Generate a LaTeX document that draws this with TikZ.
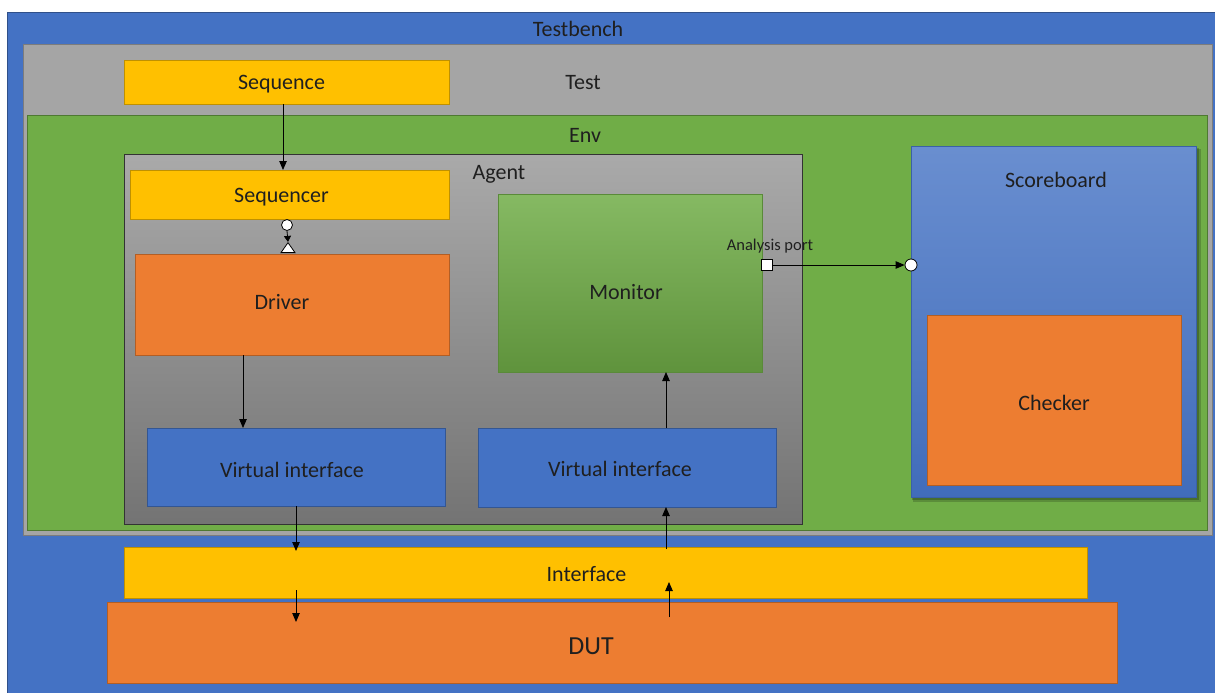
\documentclass[tikz,border=0pt]{standalone}
\usepackage{fontspec}
\setmainfont{Carlito}
\usetikzlibrary{arrows.meta,shapes.geometric,calc}
\definecolor{obl}{HTML}{4472C4}
\definecolor{ogr}{HTML}{A5A5A5}
\definecolor{ogn}{HTML}{70AD47}
\definecolor{oye}{HTML}{FFC000}
\definecolor{oor}{HTML}{ED7D31}
\tikzset{
  box/.style={rectangle,inner sep=0pt,outer sep=0pt,line width=0.9pt},
  bluebox/.style={box,fill=obl,draw=obl!75!black},
  yelbox/.style={box,fill=oye,draw=oye!75!black},
  orbox/.style={box,fill=oor,draw=oor!75!black},
  lbl/.style={font=\fontsize{22}{24}\selectfont,text=black!88,inner sep=0pt,yshift=-2.5pt},
  arr/.style={-{Triangle[length=9pt,width=7.5pt]},line width=0.8pt,black},
}
\begin{document}
\begin{tikzpicture}[x=1pt,y=-1pt]
\useasboundingbox (0,0) rectangle (1215,693);
\fill[white] (0,0) rectangle (1215,693);
% Testbench
\node[box,fill=obl,draw=obl!70!black,anchor=north west,minimum width=1208,minimum height=690] (tb) at (7,12) {};
\node[lbl] (tbl) at (578,26) {Testbench};
% Test
\node[box,fill=ogr,draw=ogr!75!black,line width=1pt,anchor=north west,minimum width=1189,minimum height=490] (test) at (23,45) {};
\node[lbl] (testl) at (583,80) {Test};
\node[yelbox,anchor=north west,minimum width=325,minimum height=44] (seq) at (124,60) {};
\node[lbl] at ($(seq)+(-5,0)$) {Sequence};
% Env
\node[box,fill=ogn,draw=ogn!70!black,anchor=north west,minimum width=1180,minimum height=415] (env) at (27,115) {};
\node[lbl] (envl) at (585,133) {Env};
% Agent
\node[box,top color=ogr!95!white,bottom color=ogr!70!black,draw=black!80,anchor=north west,minimum width=678,minimum height=370] (agent) at (124,154) {};
\node[lbl] (agentl) at (499,172) {Agent};
\node[yelbox,anchor=north west,minimum width=319,minimum height=49] (sqr) at (130,170) {};
\node[lbl] at ($(sqr)+(-8,0)$) {Sequencer};
\node[orbox,anchor=north west,minimum width=314,minimum height=101] (drv) at (135,254) {};
\node[lbl] at ($(drv)+(-10,-5)$) {Driver};
\node[box,top color=ogn!85!white,bottom color=ogn!85!black,draw=ogn!80!black,anchor=north west,minimum width=264,minimum height=178] (mon) at (498,194) {};
\node[lbl] at ($(mon)+(-4,7)$) {Monitor};
\node[bluebox,anchor=north west,minimum width=298,minimum height=78] (vil) at (147,428) {};
\node[lbl] at ($(vil)+(-4,0)$) {Virtual interface};
\node[bluebox,anchor=north west,minimum width=298,minimum height=79] (vir) at (478,428) {};
\node[lbl] at ($(vir)+(-7,-1)$) {Virtual interface};
% Scoreboard
\fill[black,opacity=0.18] (913,149) rectangle (1201,502);
\fill[black,opacity=0.22] (912,148) rectangle (1199,500);
\node[box,top color=obl!80!white,bottom color=obl!95!black,draw=obl!85!black,anchor=north west,minimum width=285,minimum height=351] (sb) at (911,146) {};
\node[lbl] (sbl) at (1056,177) {Scoreboard};
\node[orbox,anchor=north west,minimum width=254,minimum height=170] (chk) at (927,315) {};
\node[lbl] at (chk) {Checker};
% Interface and DUT
\node[yelbox,anchor=north west,minimum width=963,minimum height=51] (ifc) at (124,547) {};
\node[lbl] at ($(ifc)+(-19,-1)$) {Interface};
\node[orbox,anchor=north west,minimum width=1010,minimum height=81] (dut) at (107,602) {};
\node[lbl,font=\fontsize{26}{28}\selectfont] at ($(dut)+(-21,1)$) {DUT};
% Ports
\node[circle,draw=black,fill=white,line width=0.8pt,minimum size=11pt,inner sep=0pt] (sqp) at (287,225) {};
\node[isosceles triangle,isosceles triangle apex angle=70,shape border rotate=90,draw=black,fill=white,line width=0.8pt,minimum height=10pt,inner sep=0pt] (drp) at (288,249) {};
\draw[arr,-{Triangle[length=6pt,width=7pt]}] (sqp.south) -- (drp.apex);
\node[rectangle,draw=black,fill=white,line width=0.8pt,minimum size=11pt,inner sep=0pt] (ap) at (767,265) {};
\node[font=\fontsize{16.5}{18}\selectfont,text=black!88,inner sep=0pt,yshift=-1.5pt] (apl) at (770,245) {Analysis port};
\node[circle,draw=black,fill=white,line width=0.8pt,minimum size=12pt,inner sep=0pt] (sbp) at (911,265) {};
\draw[arr] (ap.east) -- (sbp.west);
% Connectors
\coordinate (c1) at (283,104);
\draw[arr] (c1) -- (c1 |- sqr.north);
\coordinate (c2) at (243,355);
\draw[arr] (c2) -- (c2 |- vil.north);
\coordinate (c3) at (296,506);
\draw[arr] (c3) -- ($(c3 |- ifc.north)+(0,4)$);
\coordinate (c4) at (296,590);
\draw[arr] (c4) -- (296,622);
\coordinate (c5) at (666,549);
\draw[arr] (c5) -- (c5 |- vir.south);
\coordinate (c6) at (666,428);
\draw[arr] (c6) -- (c6 |- mon.south);
\coordinate (c7) at (669,617);
\draw[arr] (c7) -- (669,582);
\end{tikzpicture}
\end{document}
